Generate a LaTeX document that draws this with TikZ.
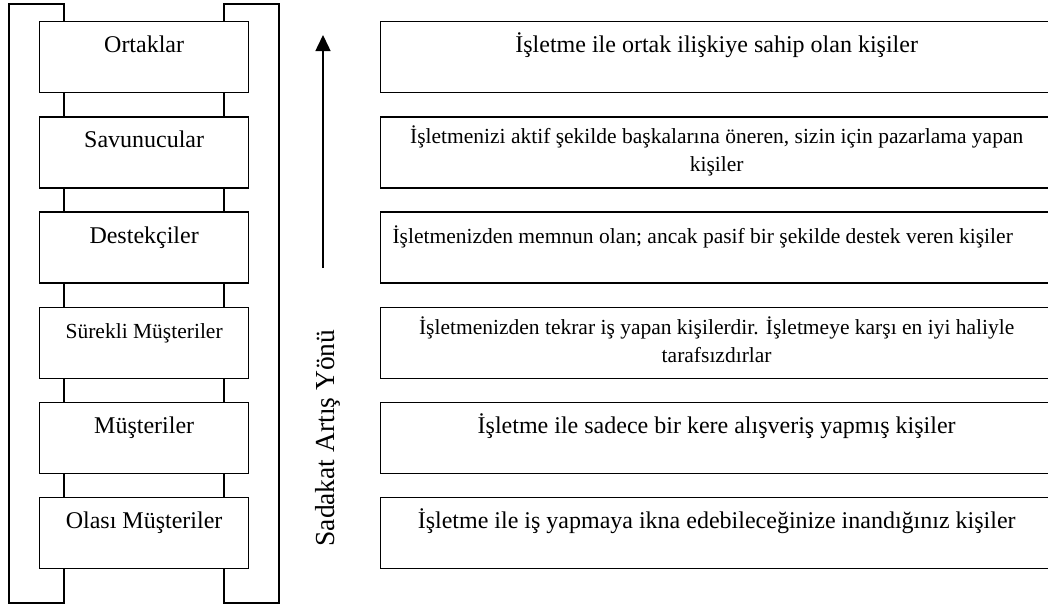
\documentclass[tikz,border=0pt]{standalone}
\usepackage{fontspec}
\setmainfont{Liberation Serif}
\usetikzlibrary{arrows.meta}
\newcommand{\fsA}{\fontsize{24}{29}\selectfont}
\newcommand{\fsB}{\fontsize{21.5}{28}\selectfont}
\newcommand{\fsL}{\fontsize{27.5}{33}\selectfont}
\begin{document}
\begin{tikzpicture}[x=1pt,y=-1pt,
  rail/.style={draw=black, line width=1.3pt},
  boxbase/.style={draw=black, fill=white, line width=1.3pt, inner xsep=0pt,
    inner ysep=0pt, anchor=north west, minimum height=71pt},
  rung/.style={boxbase, minimum width=209pt, text height=31pt, text depth=40pt},
  desc/.style={boxbase, minimum width=672pt, text height=31pt, text depth=40pt},
  desctwo/.style={boxbase, minimum width=672pt, text height=27pt, text depth=44pt},
  dirarrow/.style={line width=1.5pt, -{Triangle[length=16pt,width=15pt]}}
]
\useasboundingbox (0,0) rectangle (1048,608);

% ladder rails
\draw[rail] (9,4) rectangle (64,603);
\draw[rail] (224,4) rectangle (279,603);

% ladder rungs
\node[rung, font=\fsA] (l1) at (39,21)    {Ortaklar};
\node[rung, font=\fsA] (l2) at (39,116.2) {Savunucular};
\node[rung, font=\fsA] (l3) at (39,211.4) {Destekçiler};
\node[rung, font=\fsB] (l4) at (39,306.6) {Sürekli Müşteriler};
\node[rung, font=\fsA] (l5) at (39,401.8) {Müşteriler};
\node[rung, font=\fsA] (l6) at (39,497)   {Olası Müşteriler};

% loyalty direction
\coordinate (tail) at (323,268);
\coordinate (head) at (323,35);
\draw[dirarrow] (tail) -- (head);
\node[rotate=90, font=\fsL, inner sep=0pt] (dir) at (328,438) {Sadakat Artış Yönü};

% descriptions
\node[desc, font=\fsA] (r1) at (380,21) {İşletme ile ortak ilişkiye sahip olan kişiler};
\node[desctwo, font=\fsB] (r2) at (380,116.2)
  {\begin{tabular}[t]{@{}c@{}}İşletmenizi aktif şekilde başkalarına öneren, sizin için pazarlama yapan\\kişiler\end{tabular}};
\node[desc, font=\fsB] (r3) at (380,211.4) {İşletmenizden memnun olan; ancak pasif bir şekilde destek veren kişiler\hspace*{28pt}};
\node[desctwo, font=\fsB] (r4) at (380,306.6)
  {\begin{tabular}[t]{@{}c@{}}İşletmenizden tekrar iş yapan kişilerdir. İşletmeye karşı en iyi haliyle\\tarafsızdırlar\end{tabular}};
\node[desc, font=\fsA] (r5) at (380,401.8) {İşletme ile sadece bir kere alışveriş yapmış kişiler};
\node[desc, font=\fsA] (r6) at (380,497) {İşletme ile iş yapmaya ikna edebileceğinize inandığınız kişiler};
\end{tikzpicture}
\end{document}
